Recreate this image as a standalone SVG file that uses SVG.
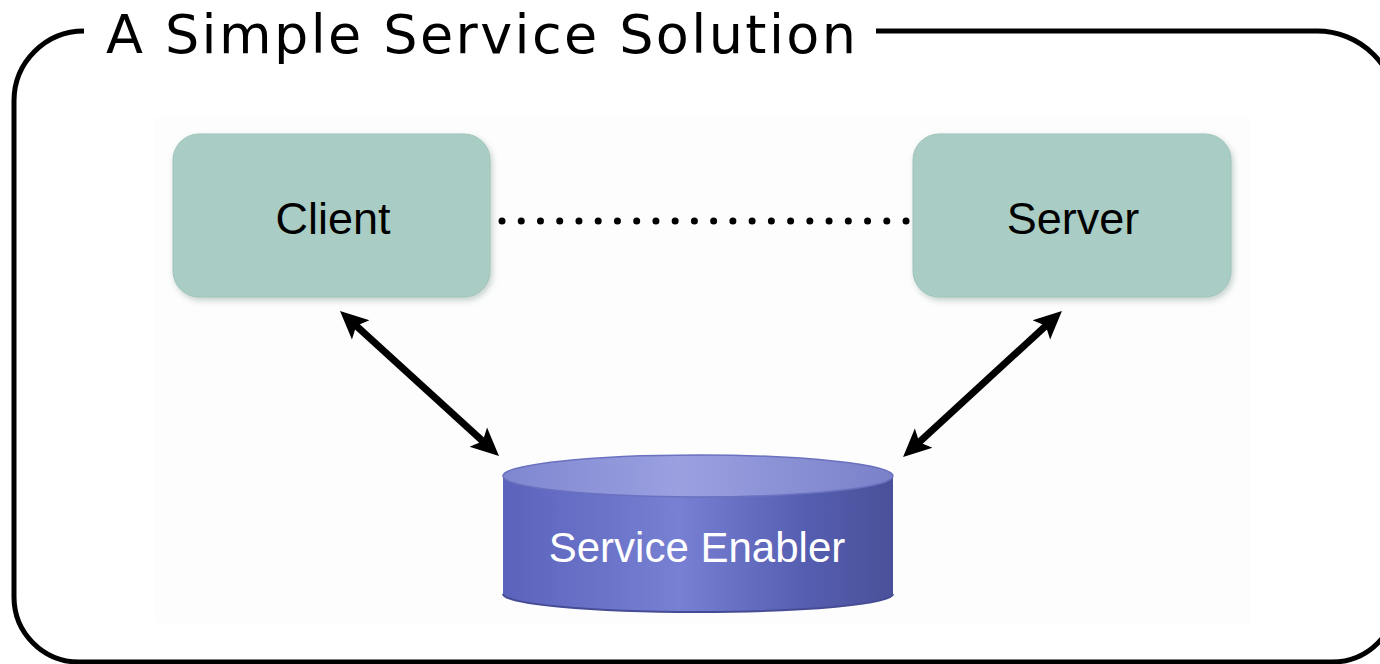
<svg xmlns="http://www.w3.org/2000/svg" width="1380" height="664" viewBox="0 0 1380 664">
  <style>
    .frame { fill: none; stroke: #000; stroke-width: 5; }
    .title { font-family: "DejaVu Sans", Verdana, sans-serif; font-size: 54px; fill: #000; }
    .box { fill: #a9cdc4; stroke: #9fc4ba; stroke-width: 1; filter: url(#shadow); }
    .label { font-family: "Liberation Sans", Arial, sans-serif; font-size: 45px; fill: #000; text-anchor: middle; }
    .dbLabel { font-family: "Liberation Sans", Arial, sans-serif; font-size: 42px; fill: #fff; text-anchor: middle; }
    .link { stroke: #000; stroke-width: 7; fill: none; }
    .dots { stroke: #000; stroke-width: 7; stroke-linecap: round; stroke-dasharray: 0 19.24; fill: none; }
  </style>
  <defs>
    <filter id="shadow" x="-10%" y="-10%" width="125%" height="130%">
      <feDropShadow dx="2" dy="3" stdDeviation="3" flood-color="#7a9a92" flood-opacity="0.45"/>
    </filter>
    <linearGradient id="side" x1="0" y1="0" x2="1" y2="0">
      <stop offset="0" stop-color="#5a62bb"/>
      <stop offset="0.45" stop-color="#7880d3"/>
      <stop offset="0.78" stop-color="#555db0"/>
      <stop offset="1" stop-color="#4a5199"/>
    </linearGradient>
    <linearGradient id="top" x1="0" y1="0" x2="1" y2="0">
      <stop offset="0" stop-color="#7f87d0"/>
      <stop offset="0.45" stop-color="#9aa0e0"/>
      <stop offset="1" stop-color="#7a81c9"/>
    </linearGradient>
    <marker id="head" viewBox="0 0 28 28" markerWidth="28" markerHeight="28" markerUnits="userSpaceOnUse" refX="13" refY="14" orient="auto-start-reverse">
      <path d="M0,1 L28,14 L0,27 L6,14 z" fill="#000"/>
    </marker>
  </defs>

  <!-- faint panel behind the nodes -->
  <rect x="155" y="118" width="1095" height="505" fill="#fdfdfd"/>

  <!-- outer frame with title gap -->
  <g id="frame">
    <path class="frame" d="M876,31 L1317,31 A80,80 0 0 1 1397,111 L1397,597 A65,65 0 0 1 1332,662 L79,662 A65,65 0 0 1 14,597 L14,101 A70,70 0 0 1 84,31"/>
    <text class="title" x="106" y="53" textLength="750" lengthAdjust="spacing">A Simple Service Solution</text>
  </g>

  <!-- connectors -->
  <g id="connectors">
    <line class="dots" x1="502" y1="221" x2="906.1" y2="221"/>
    <line class="link" x1="351.1" y1="321.1" x2="487.9" y2="445.9" marker-start="url(#head)" marker-end="url(#head)"/>
    <line class="link" x1="1050.9" y1="321.1" x2="914.1" y2="446.9" marker-start="url(#head)" marker-end="url(#head)"/>
  </g>

  <g id="client">
    <rect class="box" x="173" y="134" width="317" height="163" rx="26"/>
    <text class="label" x="333" y="234">Client</text>
  </g>

  <g id="server">
    <rect class="box" x="913" y="134" width="318" height="163" rx="26"/>
    <text class="label" x="1073" y="234">Server</text>
  </g>

  <g id="service-enabler">
    <path d="M503,476 L503,594 A195,18 0 0 0 893,594 L893,476 z" fill="url(#side)"/>
    <path d="M503,594 A195,18 0 0 0 893,594" fill="none" stroke="#454c94" stroke-width="2"/>
    <ellipse cx="698" cy="476" rx="195" ry="21" fill="url(#top)" stroke="#6a71bf" stroke-width="1.5"/>
    <text class="dbLabel" x="697" y="562">Service Enabler</text>
  </g>
</svg>
